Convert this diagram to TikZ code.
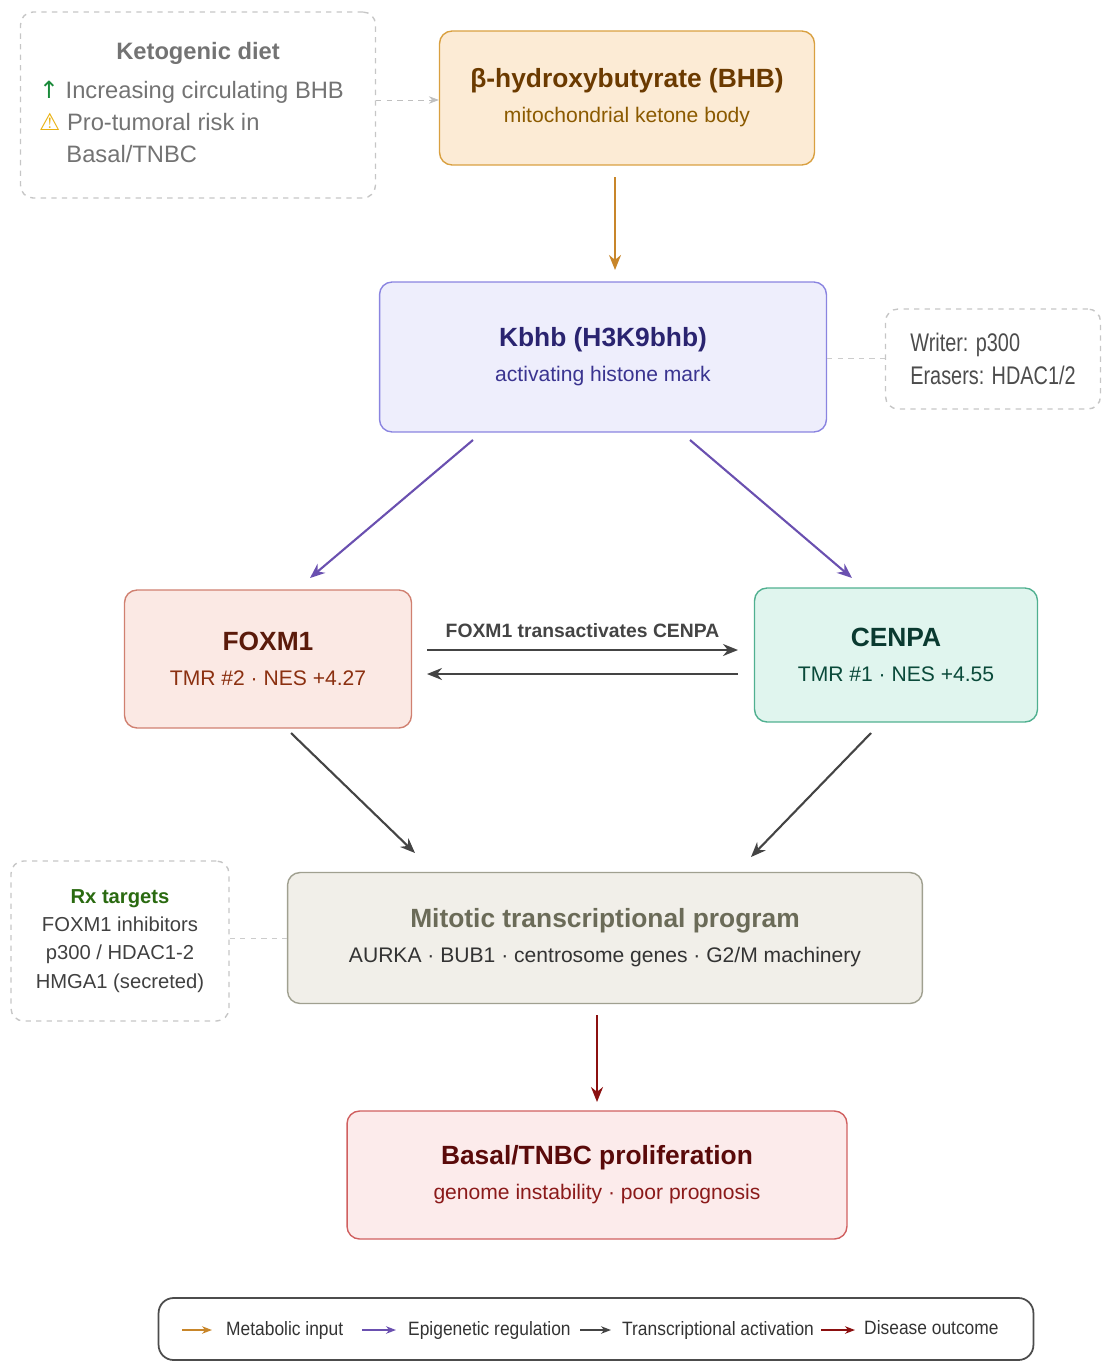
\documentclass[tikz,border=0pt]{standalone}
\usepackage{fontspec}
\setmainfont{Liberation Sans}
\newfontfamily\symfont{DejaVu Sans}
\usetikzlibrary{arrows.meta,positioning}
\definecolor{orgfill}{HTML}{FCEBD5}\definecolor{orgdraw}{HTML}{D9A040}
\definecolor{purfill}{HTML}{EEEEFC}\definecolor{purdraw}{HTML}{8A84E0}
\definecolor{foxfill}{HTML}{FBE9E4}\definecolor{foxdraw}{HTML}{D08070}
\definecolor{cenfill}{HTML}{E0F5EE}\definecolor{cendraw}{HTML}{50B090}
\definecolor{mitfill}{HTML}{F1EFE9}\definecolor{mitdraw}{HTML}{A0A090}
\definecolor{basfill}{HTML}{FCEBEB}\definecolor{basdraw}{HTML}{D06060}
\definecolor{metarr}{HTML}{C8862A}\definecolor{epiarr}{HTML}{6A50B0}
\definecolor{traarr}{HTML}{444444}\definecolor{disarr}{HTML}{8B1010}
\tikzset{
  box/.style={
      rectangle,
      rounded corners=2.5mm,
      line width=0.8pt,
      align=center,
      font=\fontsize{12}{17}\selectfont
  },
  note/.style={
      rectangle,
      rounded corners=2.5mm,
      dashed,
      line width=0.8pt,
      draw=gray!45,
      align=center,
      text=gray!90!black
  },
  flow/.style={-{Stealth[length=3mm,width=2.4mm]},line width=1.2pt}
}
\begin{document}
\begin{tikzpicture}[x=0.02cm,y=-0.02cm]
    \useasboundingbox (0,0) rectangle (1111,1372);
    % main boxes
    \node[box,fill=orgfill,draw=orgdraw,minimum width=7.5cm,minimum height=2.68cm] (bhb) at (627,98)
      {\textcolor[HTML]{6B3A00}{\fontsize{15}{20}\selectfont\bfseries β-hydroxybutyrate (BHB)}\\[3pt]\textcolor[HTML]{8B5A00}{mitochondrial ketone body}};
    \node[box,fill=purfill,draw=purdraw,minimum width=8.94cm,minimum height=3cm] (kbhb) at (603,357)
      {\textcolor[HTML]{2A2470}{\fontsize{15}{20}\selectfont\bfseries Kbhb (H3K9bhb)}\\[3pt]\textcolor[HTML]{3A3490}{activating histone mark}};
    \node[box,fill=foxfill,draw=foxdraw,minimum width=5.74cm,minimum height=2.76cm] (foxm1) at (268,659)
      {\textcolor[HTML]{5A1A0A}{\fontsize{15}{20}\selectfont\bfseries FOXM1}\\[3pt]\textcolor[HTML]{8B3010}{TMR \#2 · NES +4.27}};
    \node[box,fill=cenfill,draw=cendraw,minimum width=5.66cm,minimum height=2.68cm] (cenpa) at (896,655)
      {\textcolor[HTML]{0A3A30}{\fontsize{15}{20}\selectfont\bfseries CENPA}\\[3pt]\textcolor[HTML]{0A4A3A}{TMR \#1 · NES +4.55}};
    \node[box,fill=mitfill,draw=mitdraw,minimum width=12.7cm,minimum height=2.62cm] (mitotic) at (605,938)
      {\textcolor[HTML]{6B6B58}{\fontsize{15}{20}\selectfont\bfseries Mitotic transcriptional program}\\[3pt]\textcolor[HTML]{333333}{AURKA · BUB1 · centrosome genes · G2/M machinery}};
    \node[box,fill=basfill,draw=basdraw,minimum width=10cm,minimum height=2.56cm] (basal) at (597,1175)
      {\textcolor[HTML]{5A0A0A}{\fontsize{15}{20}\selectfont\bfseries Basal/TNBC proliferation}\\[3pt]\textcolor[HTML]{8B1A1A}{genome instability · poor prognosis}};
    % notes
    \node[note,minimum width=7.1cm,minimum height=3.72cm] (keto) at (198,105) {};
    \node[font=\fontsize{13.5}{16}\selectfont\bfseries,text=gray!90!black] (ketot) at (198,53) {Ketogenic diet};
    \node[font=\fontsize{13.5}{18}\selectfont,text=gray!90!black,anchor=west,align=left] (ketol) at (33,122)
      {{\symfont\textcolor[HTML]{1A8A3A}{↑}}\ Increasing circulating BHB\\{\symfont\textcolor[HTML]{E8B010}{⚠}} Pro-tumoral risk in\\\hspace*{1.15em}Basal/TNBC};
    \node[note,minimum width=4.3cm,minimum height=2cm,font=\fontsize{14.5}{19}\selectfont,align=left,text=black!70] (writer) at (993,359)
      {\scalebox{0.78}[1]{Writer: p300}\\\scalebox{0.78}[1]{Erasers: HDAC1/2}};
    \node[note,minimum width=4.36cm,minimum height=3.2cm,font=\fontsize{11.5}{16}\selectfont] (rx) at (120,941)
      {\textcolor[HTML]{2A6A10}{\bfseries Rx targets}\\\textcolor{black!75}{FOXM1 inhibitors}\\\textcolor{black!75}{p300 / HDAC1-2}\\\textcolor{black!75}{HMGA1 (secreted)}};
    % connector end points
    \coordinate (bhbS) at (615,177);   \coordinate (kbhbN) at (615,270);
    \coordinate (kbhbL) at (473,440);  \coordinate (foxN) at (310,578);
    \coordinate (kbhbR) at (690,440);  \coordinate (cenN) at (852,578);
    \coordinate (foxE1) at (427,650);  \coordinate (cenW1) at (738,650);
    \coordinate (cenW2) at (738,674);  \coordinate (foxE2) at (427,674);
    \coordinate (foxS) at (291,733);   \coordinate (mitL) at (415,853);
    \coordinate (cenS) at (871,733);   \coordinate (mitR) at (751,857);
    \coordinate (mitS) at (597,1015);  \coordinate (basN) at (597,1102);
    % arrows
    \draw[flow,metarr] (bhbS) -- (kbhbN);
    \draw[flow,epiarr] (kbhbL) -- (foxN);
    \draw[flow,epiarr] (kbhbR) -- (cenN);
    \draw[flow,traarr] (foxE1) -- node[above,font=\fontsize{11}{13}\selectfont\bfseries,yshift=3pt] {FOXM1 transactivates CENPA} (cenW1);
    \draw[flow,traarr] (cenW2) -- (foxE2);
    \draw[flow,traarr] (foxS) -- (mitL);
    \draw[flow,traarr] (cenS) -- (mitR);
    \draw[flow,disarr] (mitS) -- (basN);
    \draw[dashed,gray!50,-{Stealth[length=2mm]}] (keto.east |- 0,100) -- (bhb.west |- 0,100);
    \draw[dashed,gray!40] (kbhb.east |- 0,358) -- (writer.west |- 0,358);
    \draw[dashed,gray!40] (rx.east |- 0,938) -- (mitotic.west |- 0,938);
    % legend
    \node[draw=black!70,line width=1pt,rounded corners=3mm,minimum width=17.5cm,minimum height=1.24cm] (legend) at (596,1329) {};
    \coordinate (l1) at (182,1330); \coordinate (l1e) at (212,1330);
    \coordinate (l2) at (362,1330); \coordinate (l2e) at (396,1330);
    \coordinate (l3) at (580,1330); \coordinate (l3e) at (611,1330);
    \coordinate (l4) at (821,1330); \coordinate (l4e) at (855,1330);
    \draw[metarr,line width=1.2pt,-{Stealth[length=2mm]}] (l1) -- (l1e);
    \draw[epiarr,line width=1.2pt,-{Stealth[length=2mm]}] (l2) -- (l2e);
    \draw[traarr,line width=1.2pt,-{Stealth[length=2mm]}] (l3) -- (l3e);
    \draw[disarr,line width=1.2pt,-{Stealth[length=2mm]}] (l4) -- (l4e);
    \begin{scope}[every node/.style={anchor=west,font=\fontsize{11}{13}\selectfont,text=black!80}]
      \node (t1) at (220,1330) {\scalebox{0.9}[1]{Metabolic input}};
      \node (t2) at (402,1330) {\scalebox{0.9}[1]{Epigenetic regulation}};
      \node (t3) at (616,1330) {\scalebox{0.9}[1]{Transcriptional activation}};
      \node (t4) at (858,1328) {\scalebox{0.9}[1]{Disease outcome}};
    \end{scope}
\end{tikzpicture}
\end{document}
